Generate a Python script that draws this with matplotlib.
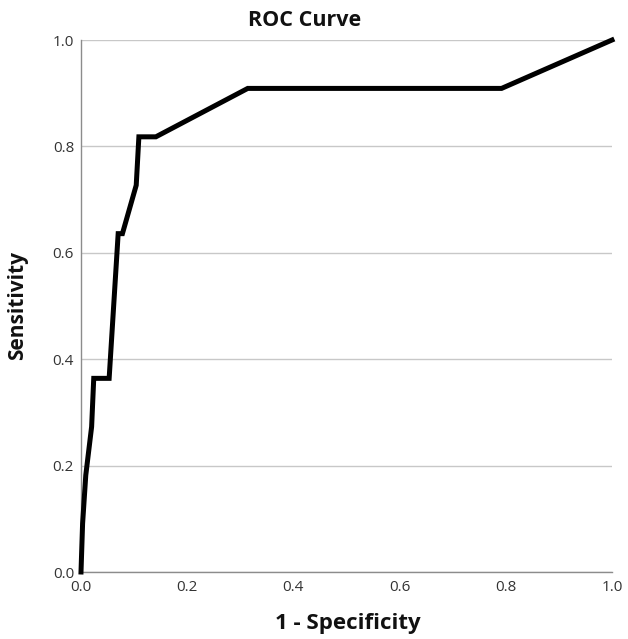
import matplotlib
matplotlib.use("Agg")
import matplotlib.pyplot as plt

# ROC curve points (1 - specificity, sensitivity)
fpr = [0.0, 0.003, 0.009, 0.020, 0.024, 0.053, 0.070, 0.078, 0.104, 0.109, 0.141, 0.314, 0.792, 1.0]
tpr = [0.0, 0.091, 0.182, 0.273, 0.364, 0.364, 0.636, 0.636, 0.727, 0.818, 0.818, 0.909, 0.909, 1.0]
ticks = [0.0, 0.2, 0.4, 0.6, 0.8, 1.0]
tick_labels = ["0.0", "0.2", "0.4", "0.6", "0.8", "1.0"]

plt.rcParams['font.family'] = ['Open Sans', 'DejaVu Sans']

fig = plt.figure(figsize=(6.28, 6.39), dpi=100)
ax = fig.add_axes([81/628, 67/639, 531/628, 532/639])

ax.plot(fpr, tpr, color='black', lw=3.6, solid_joinstyle='miter', clip_on=False, zorder=3)

ax.set_xlim(0, 1)
ax.set_ylim(0, 1)
ax.set_xticks(ticks)
ax.set_xticklabels(tick_labels)
ax.set_yticks(ticks)
ax.set_yticklabels(tick_labels)
ax.tick_params(axis='both', length=0, labelsize=11, colors='#333333')
ax.tick_params(axis='x', pad=6)
ax.tick_params(axis='y', pad=5)
ax.yaxis.grid(True, color='#c8c8c8', lw=1.0)
ax.set_axisbelow(True)
for s in ['top', 'right']:
    ax.spines[s].set_visible(False)
for s in ['left', 'bottom']:
    ax.spines[s].set_color('#8c8c8c')
    ax.spines[s].set_linewidth(1.0)

fig.text(305/628, 1 - 21/639, "ROC Curve", ha='center', va='center', fontsize=15.5, fontweight='bold', color='#111111')
fig.text(348/628, 1 - 624/639, "1 - Specificity", ha='center', va='center', fontsize=16, fontweight='bold', color='#111111')
fig.text(18/628, 1 - 305/639, "Sensitivity", ha='center', va='center', rotation=90, fontsize=15, fontweight='bold', color='#111111')

fig.savefig("out.png", dpi=100)
